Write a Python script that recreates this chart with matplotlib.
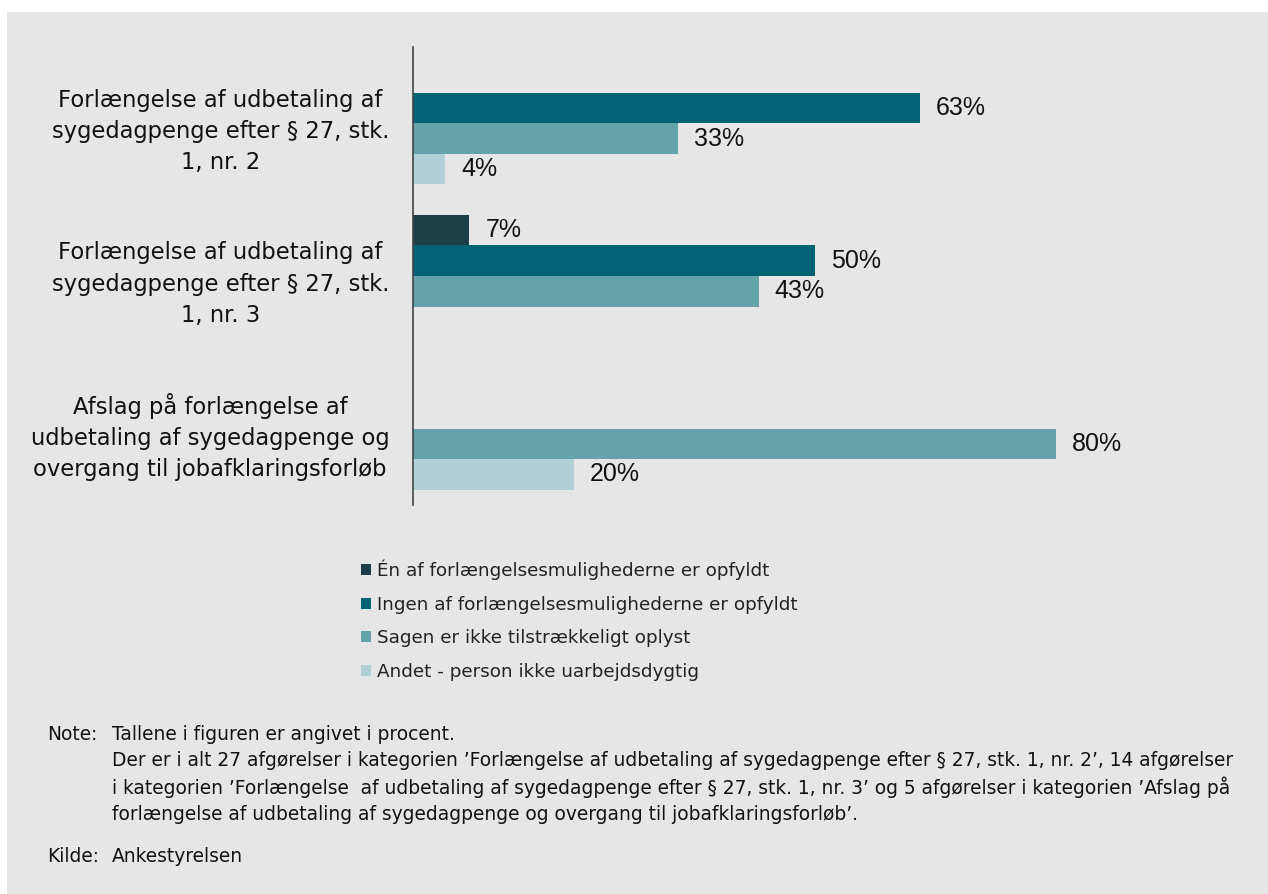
import matplotlib
matplotlib.use("Agg")
import matplotlib.pyplot as plt
import numpy as np
from matplotlib.patches import Rectangle

categories = [
    "Forlængelse af udbetaling af\nsygedagpenge efter § 27, stk.\n1, nr. 2",
    "Forlængelse af udbetaling af\nsygedagpenge efter § 27, stk.\n1, nr. 3",
    "Afslag på forlængelse af\nudbetaling af sygedagpenge og\novergang til jobafklaringsforløb",
]
series_names = [
    "Én af forlængelsesmulighederne er opfyldt",
    "Ingen af forlængelsesmulighederne er opfyldt",
    "Sagen er ikke tilstrækkeligt oplyst",
    "Andet - person ikke uarbejdsdygtig",
]
en_af = [0, 7, 0]
ingen_af = [63, 50, 0]
sagen = [33, 43, 80]
andet = [4, 0, 20]
series_values = [en_af, ingen_af, sagen, andet]
colors = ["#1c3f47", "#006272", "#66a2aa", "#b2d1d7"]
bg = "#e6e6e6"

fig = plt.figure(figsize=(12.68, 8.94), dpi=100)
fig.patch.set_facecolor("white")
fig.patches.append(Rectangle((7 / 1268, 0), 1, (894 - 12) / 894,
                             transform=fig.transFigure, facecolor=bg,
                             edgecolor="none", zorder=-10))

ax = fig.add_axes([413 / 1268, 1 - 505 / 894, 804 / 1268, 458 / 894])
ax.set_facecolor(bg)
ax.patch.set_alpha(0)

bar_h = 0.2
y_base = np.arange(len(categories))
for i, (vals, col) in enumerate(zip(series_values, colors)):
    ypos = y_base - 0.3 + i * bar_h
    ax.barh(ypos, vals, height=bar_h, color=col, label=series_names[i])
    for y, v in zip(ypos, vals):
        if v > 0:
            ax.text(v + 2.0, y, f"{v}%", va="center", ha="left",
                    fontsize=18, family="Liberation Sans", color="#111111")

ax.set_xlim(0, 100)
ax.set_ylim(2.5, -0.5)
ax.set_yticks(y_base + 0.01)
ax.set_yticklabels(categories, fontsize=16.3, family="DejaVu Sans",
                   multialignment="center", color="#111111", linespacing=1.45)
ax.tick_params(axis="y", length=0, pad=17)
ax.set_xticks([])
for s in ["top", "right", "bottom"]:
    ax.spines[s].set_visible(False)
ax.spines["left"].set_color("#444444")
ax.spines["left"].set_linewidth(1.2)

handles, labels = ax.get_legend_handles_labels()
leg = fig.legend(handles, labels, loc="upper left",
                 bbox_to_anchor=(344 / 1268, 1 - 543 / 894),
                 frameon=False, handlelength=0.55,
                 handleheight=0.55, handletextpad=0.35, labelspacing=0.85,
                 prop={"family": "DejaVu Sans", "size": 13.2})
for t in leg.get_texts():
    t.set_color("#222222")

note_fs = 13.4
fig.text(47 / 1268, 1 - 735 / 894, "Note:", fontsize=note_fs, va="center",
         family="DejaVu Sans", color="#111111")
note_lines = [
    "Tallene i figuren er angivet i procent.",
    "Der er i alt 27 afgørelser i kategorien ’Forlængelse af udbetaling af sygedagpenge efter § 27, stk. 1, nr. 2’, 14 afgørelser",
    "i kategorien ’Forlængelse  af udbetaling af sygedagpenge efter § 27, stk. 1, nr. 3’ og 5 afgørelser i kategorien ’Afslag på",
    "forlængelse af udbetaling af sygedagpenge og overgang til jobafklaringsforløb’.",
]
note_y = [735, 760, 787, 814]
for txt, y in zip(note_lines, note_y):
    fig.text(112 / 1268, 1 - y / 894, txt, fontsize=note_fs, va="center",
             family="DejaVu Sans", color="#111111")
fig.text(47 / 1268, 1 - 857 / 894, "Kilde:", fontsize=note_fs, va="center",
         family="DejaVu Sans", color="#111111")
fig.text(112 / 1268, 1 - 857 / 894, "Ankestyrelsen", fontsize=note_fs,
         va="center", family="DejaVu Sans", color="#111111")

fig.savefig("out.png", dpi=100, facecolor=fig.get_facecolor())
